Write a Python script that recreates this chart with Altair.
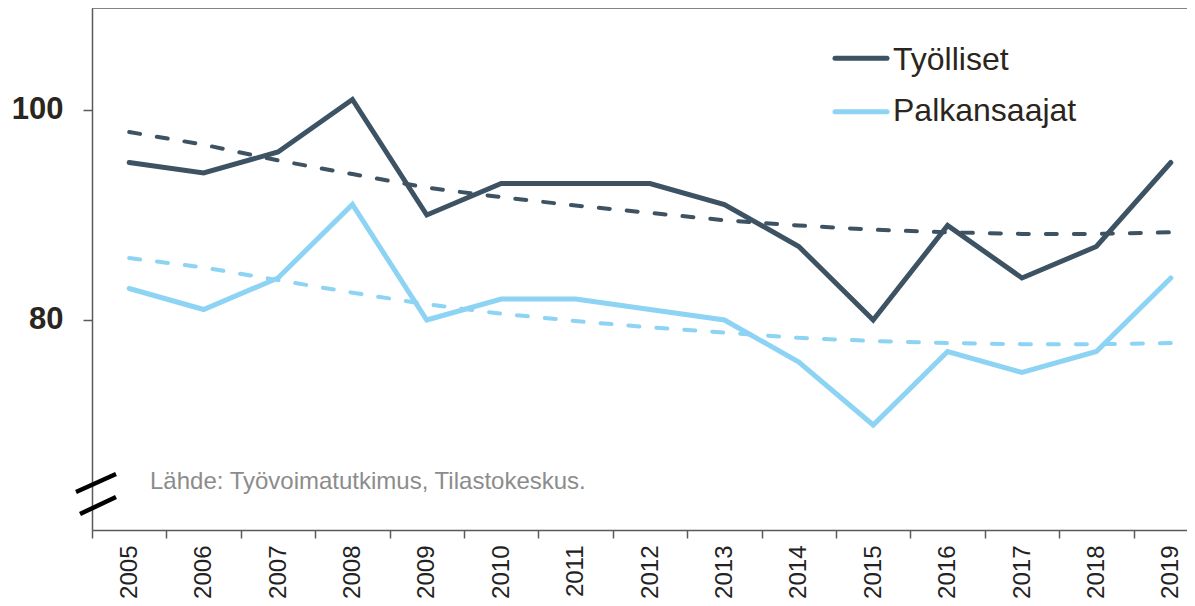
import altair as alt
import pandas as pd

years = ["2005", "2006", "2007", "2008", "2009", "2010", "2011", "2012",
         "2013", "2014", "2015", "2016", "2017", "2018", "2019"]
tyolliset = [95, 94, 96, 101, 90, 93, 93, 93, 91, 87, 80, 89, 84, 87, 95]
palkansaajat = [83, 81, 84, 91, 80, 82, 82, 81, 80, 76, 70, 77, 75, 77, 84]
tyolliset_trend = [97.9, 96.7, 95.2, 93.9, 92.6, 91.7, 90.9, 90.2, 89.5, 89.0,
                   88.6, 88.35, 88.2, 88.2, 88.35]
palkansaajat_trend = [85.9, 85.0, 83.8, 82.6, 81.5, 80.6, 79.9, 79.3, 78.8, 78.3,
                      78.0, 77.8, 77.7, 77.7, 77.8]
series = ["Työlliset", "Palkansaajat"]
colors = ["#3d5262", "#8dd3f4"]
y_ticks = [80, 100]
source_text = "Lähde: Työvoimatutkimus, Tilastokeskus."

FONT = "Liberation Sans"
AXIS_COLOR = "#5a5a5a"

actual = pd.DataFrame({
    "year": years * 2,
    "value": tyolliset + palkansaajat,
    "series": [series[0]] * len(years) + [series[1]] * len(years),
})
trend = pd.DataFrame({
    "year": years * 2,
    "value": tyolliset_trend + palkansaajat_trend,
    "series": [series[0]] * len(years) + [series[1]] * len(years),
})

x_enc = alt.X(
    "year:N", sort=years, title=None,
    scale=alt.Scale(type="band", range=[0, 1116], paddingInner=0, paddingOuter=0),
    axis=alt.Axis(labelAngle=270, tickBand="extent", tickSize=8, labelPadding=7,
                  labelFontSize=24, labelColor="#222222", grid=False),
)
y_enc = alt.Y(
    "value:Q", title=None,
    scale=alt.Scale(domain=[60, 109.714], nice=False, zero=False),
    axis=alt.Axis(values=y_ticks, tickSize=9, labelPadding=20, labelFontSize=31,
                  labelFontWeight="bold", labelColor="#2b2520", grid=False),
)
color_enc = alt.Color("series:N", scale=alt.Scale(domain=series, range=colors), legend=None)

trend_layer = alt.Chart(trend).mark_line(
    strokeWidth=4, strokeDash=[11, 17], strokeCap="round"
).encode(x=x_enc, y=y_enc, color=color_enc, detail="series:N")

line_layer = alt.Chart(actual).mark_line(
    strokeWidth=5, strokeCap="round", strokeJoin="miter"
).encode(x=x_enc, y=y_enc, color=color_enc, detail="series:N")

one = pd.DataFrame({"label": [series[0]]})
two = pd.DataFrame({"label": [series[1]]})
src = pd.DataFrame({"label": [source_text]})

top_border = alt.Chart(one).mark_rule(strokeWidth=1.5, color=AXIS_COLOR).encode(
    x=alt.value(0), x2=alt.value(1116), y=alt.value(0))
leg1_line = alt.Chart(one).mark_rule(strokeWidth=5, strokeCap="round", color=colors[0]).encode(
    x=alt.value(743), x2=alt.value(795), y=alt.value(50.3))
leg2_line = alt.Chart(two).mark_rule(strokeWidth=5, strokeCap="round", color=colors[1]).encode(
    x=alt.value(743), x2=alt.value(795), y=alt.value(103.7))
leg1_text = alt.Chart(one).mark_text(align="left", baseline="alphabetic", fontSize=32,
                                     font=FONT, color="#2b2520").encode(
    x=alt.value(801), y=alt.value(61.5), text="label:N")
leg2_text = alt.Chart(two).mark_text(align="left", baseline="alphabetic", fontSize=32,
                                     font=FONT, color="#2b2520").encode(
    x=alt.value(801), y=alt.value(113), text="label:N")
src_text = alt.Chart(src).mark_text(align="left", baseline="alphabetic", fontSize=24,
                                    font=FONT, color="#8c8c8c").encode(
    x=alt.value(58), y=alt.value(481), text="label:N")
break1 = alt.Chart(one).mark_rule(strokeWidth=4.5, color="black").encode(
    x=alt.value(-16), x2=alt.value(24), y=alt.value(484), y2=alt.value(466))
break2 = alt.Chart(one).mark_rule(strokeWidth=4.5, color="black").encode(
    x=alt.value(-12), x2=alt.value(24), y=alt.value(506), y2=alt.value(489))

chart = alt.layer(
    top_border, trend_layer, line_layer, leg1_line, leg2_line, leg1_text, leg2_text,
    src_text, break1, break2
).properties(
    width=1095, height=522,
    autosize=alt.AutoSizeParams(type="none"),
    padding={"left": 84, "right": 0, "top": 0, "bottom": 68},
).configure_view(
    stroke=None
).configure_axis(
    labelFont=FONT, domainColor=AXIS_COLOR, domainWidth=1.5,
    tickColor=AXIS_COLOR, tickWidth=1.5,
)

chart.save("out.html", embed_options={"renderer": "svg", "actions": False})
